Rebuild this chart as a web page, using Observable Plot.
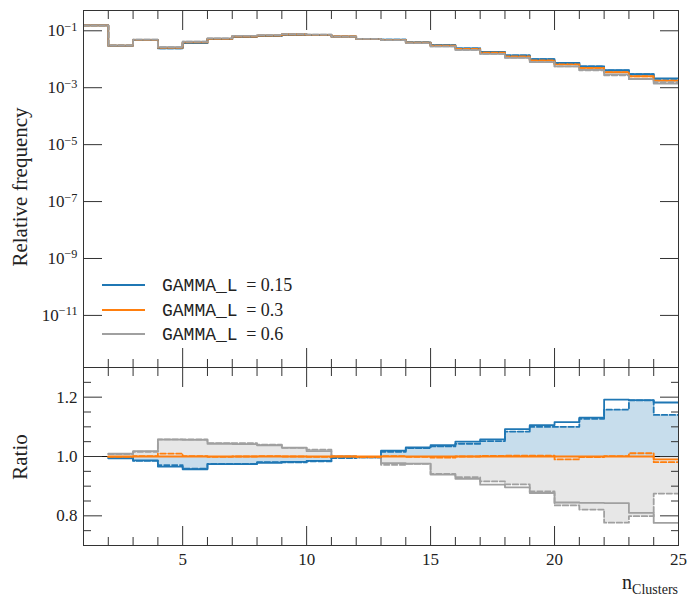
<!DOCTYPE html>
<html><head><meta charset="utf-8">
<script src="https://cdn.jsdelivr.net/npm/d3@7"></script>
<script src="https://cdn.jsdelivr.net/npm/@observablehq/plot@0.6"></script>
<style>
body{margin:0;background:#fff;}
#chart{position:relative;width:688px;height:596px;font-family:"Liberation Serif",serif;color:#222;}
#chart svg{position:absolute;left:0;overflow:visible;}
.lab{position:absolute;white-space:nowrap;font-size:21px;line-height:1;}
.leg{position:absolute;white-space:nowrap;font-size:18px;line-height:1;}
.mono{font-family:"Liberation Mono",monospace;margin-right:4px;}
.sw{position:absolute;width:43px;height:2px;}
</style></head><body><div id="chart"></div>
<script>
// ---- data ----
const binEdges = [1,2,3,4,5,6,7,8,9,10,11,12,13,14,15,16,17,18,19,20,21,22,23,24,25];
// nominal relative frequency per bin (GAMMA_L = 0.3 reference)
const relFreqNominal = [0.155,0.030,0.048,0.025,0.039,0.052,0.063,0.068,0.074,0.072,0.063,0.052,0.048,0.038,0.030,0.023,0.017,0.0126,0.0091,0.0067,0.0050,0.0035,0.0025,0.0018];
// ratios to nominal (solid / dashed)
const ratioBlueSolid   = [null,0.994,0.987,0.966,0.957,0.974,0.974,0.979,0.982,0.985,0.997,0.999,1.020,1.031,1.038,1.050,1.058,1.092,1.106,1.116,1.131,1.192,1.190,1.182];
const ratioBlueDashed  = [null,0.996,0.985,0.971,0.959,0.975,0.975,0.981,0.980,0.984,0.995,0.997,1.016,1.028,1.034,1.043,1.052,1.084,1.100,1.100,1.127,1.158,1.189,1.140];
const ratioOrangeSolid = [null,1.000,1.000,1.000,1.000,1.000,1.000,1.000,1.000,1.000,1.000,1.000,1.000,1.000,1.000,1.000,1.000,1.000,1.000,1.000,1.000,1.000,1.000,0.990];
const ratioOrangeDashed= [null,0.999,1.001,1.010,1.001,0.999,1.000,1.001,1.000,0.999,1.000,0.998,1.001,0.999,0.996,1.000,1.002,1.003,1.003,0.990,0.998,1.001,1.011,0.981];
const ratioGraySolid   = [null,1.010,1.018,1.057,1.056,1.043,1.042,1.038,1.030,1.018,1.001,0.998,0.978,0.976,0.939,0.925,0.905,0.896,0.877,0.845,0.844,0.843,0.810,0.776];
const ratioGrayDashed  = [null,1.008,1.016,1.058,1.058,1.045,1.045,1.040,1.029,1.023,0.998,0.996,0.972,0.975,0.941,0.930,0.916,0.906,0.882,0.835,0.821,0.777,0.799,0.875];
const legendLabels = ["0.15","0.3","0.6"];
const topYTicks = [1e-1,1e-3,1e-5,1e-7,1e-9,1e-11];
const xMajorTicks = [5,10,15,20,25];
const xMinorTicks = [2,3,4,6,7,8,9,11,12,13,14,16,17,18,19,21,22,23,24];
const ratioMajorTicks = [0.8,1.0,1.2];
const ratioMinorTicks = [0.75,0.85,0.9,0.95,1.05,1.1,1.15,1.25];

const BLUE="#1f77b4", ORANGE="#ff7f0e", GRAY="#a0a0a0", AX="#333";
const DASH="5.5,2.4", LW=1.8;

function steps(vals){
  const pts = vals.map((v,i)=>({x:binEdges[i], y:v}));
  pts.push({x:binEdges[vals.length], y:vals[vals.length-1]});
  return pts;
}
const series = [
  {ratio:ratioBlueSolid, color:BLUE, dash:null},
  {ratio:ratioOrangeSolid, color:ORANGE, dash:null},
  {ratio:ratioGraySolid, color:GRAY, dash:null},
  {ratio:ratioBlueDashed, color:BLUE, dash:DASH},
  {ratio:ratioOrangeDashed, color:ORANGE, dash:DASH},
  {ratio:ratioGrayDashed, color:GRAY, dash:DASH},
];
const font = 'font-family:"Liberation Serif",serif;font-size:17px;color:#222;background:transparent;overflow:visible;';

function tickAxes(k, anchor, ticks, size){
  const f = k==="x" ? Plot.axisX : Plot.axisY;
  return f(ticks, {anchor, tickSize:-size, tickFormat:()=>"", fill:null, label:null, stroke:AX});
}

// ---- top panel ----
const topPlot = Plot.plot({
  width:688, height:368, marginLeft:83, marginRight:10, marginTop:10, marginBottom:1,
  x:{domain:[1,25]},
  y:{type:"log", domain:[Math.pow(10,-12.83), Math.pow(10,-0.287)]},
  style:font,
  marks:[
    ...series.map(s=>Plot.line(steps(relFreqNominal.map((v,i)=>v*(s.ratio[i]==null?1:s.ratio[i]))),
      {x:"x", y:"y", curve:"step-after", stroke:s.color, strokeWidth:LW, strokeDasharray:s.dash, clip:true})),
    Plot.frame({stroke:AX}),
    Plot.axisY(topYTicks, {anchor:"left", tickSize:0, tickPadding:6, label:null,
      tickFormat:d=>"10^"+Math.round(Math.log10(d)), fontSize:17}),
    tickAxes("y","left",topYTicks,19), tickAxes("y","right",topYTicks,19),
    tickAxes("x","top",xMajorTicks,19), tickAxes("x","top",xMinorTicks,8),
    tickAxes("x","bottom",xMajorTicks,19), tickAxes("x","bottom",xMinorTicks,8),
  ]
});
topPlot.style.top="0px";

// ---- ratio panel ----
const lineOrder = [series[2],series[5],series[0],series[3],series[1],series[4]];
const bottomPlot = Plot.plot({
  width:688, height:239, marginLeft:83, marginRight:10, marginTop:10, marginBottom:51,
  x:{domain:[1,25]},
  y:{domain:[0.7,1.3]},
  style:font,
  marks:[
    Plot.areaY(steps(ratioGrayDashed), {x:"x", y1:1, y2:"y", curve:"step-after", fill:GRAY, fillOpacity:0.25}),
    Plot.areaY(steps(ratioBlueDashed), {x:"x", y1:1, y2:"y", curve:"step-after", fill:BLUE, fillOpacity:0.25}),
    Plot.ruleY([1], {stroke:"#111", strokeWidth:1}),
    ...lineOrder.map(s=>Plot.line(steps(s.ratio), {x:"x", y:"y", curve:"step-after", stroke:s.color, strokeWidth:LW, strokeDasharray:s.dash, clip:true})),
    Plot.frame({stroke:AX}),
    Plot.axisY(ratioMajorTicks, {anchor:"left", tickSize:0, tickPadding:6, label:null, tickFormat:d3.format(".1f"), fontSize:17}),
    Plot.axisX(xMajorTicks, {anchor:"bottom", tickSize:0, tickPadding:7, label:null, tickFormat:d=>String(d), fontSize:17}),
    tickAxes("y","left",ratioMajorTicks,19), tickAxes("y","right",ratioMajorTicks,19),
    tickAxes("y","left",ratioMinorTicks,8), tickAxes("y","right",ratioMinorTicks,8),
    tickAxes("x","top",xMajorTicks,19), tickAxes("x","top",xMinorTicks,8),
    tickAxes("x","bottom",xMajorTicks,19), tickAxes("x","bottom",xMinorTicks,8),
  ]
});
bottomPlot.style.top="357px";

const chart = document.getElementById("chart");
chart.appendChild(topPlot);
chart.appendChild(bottomPlot);

// superscript exponents for log tick labels
topPlot.querySelectorAll("text").forEach(t=>{
  const m = /^10\^(-?\d+)$/.exec(t.textContent);
  if(!m) return;
  t.textContent = "10";
  const ts = document.createElementNS("http://www.w3.org/2000/svg","tspan");
  ts.setAttribute("dy","-0.45em");
  ts.setAttribute("font-size","0.72em");
  ts.textContent = m[1].replace("-","\u2212");
  t.appendChild(ts);
});

// axis titles
function addLabel(html, css){
  const d=document.createElement("div"); d.className="lab"; d.innerHTML=html; d.style.cssText+=css; chart.appendChild(d); return d;
}
addLabel("Relative frequency","left:20px;top:187px;transform:translate(-50%,-50%) rotate(-90deg);");
addLabel("Ratio","left:20px;top:457px;transform:translate(-50%,-50%) rotate(-90deg);");
addLabel('n<sub style="font-size:14px;vertical-align:-5px">Clusters</sub>',"right:10px;top:572px;font-size:20px;");

// legend
const legColors=[BLUE,ORANGE,GRAY], legY=[285,310,334];
legendLabels.forEach((v,i)=>{
  const sw=document.createElement("div"); sw.className="sw";
  sw.style.left="102px"; sw.style.top=(legY[i]-1)+"px"; sw.style.background=legColors[i];
  chart.appendChild(sw);
  const t=document.createElement("div"); t.className="leg";
  t.style.left="162px"; t.style.top=(legY[i]-9)+"px";
  t.innerHTML=`<span class="mono">GAMMA_L</span> = ${v}`;
  chart.appendChild(t);
});
</script></body></html>
